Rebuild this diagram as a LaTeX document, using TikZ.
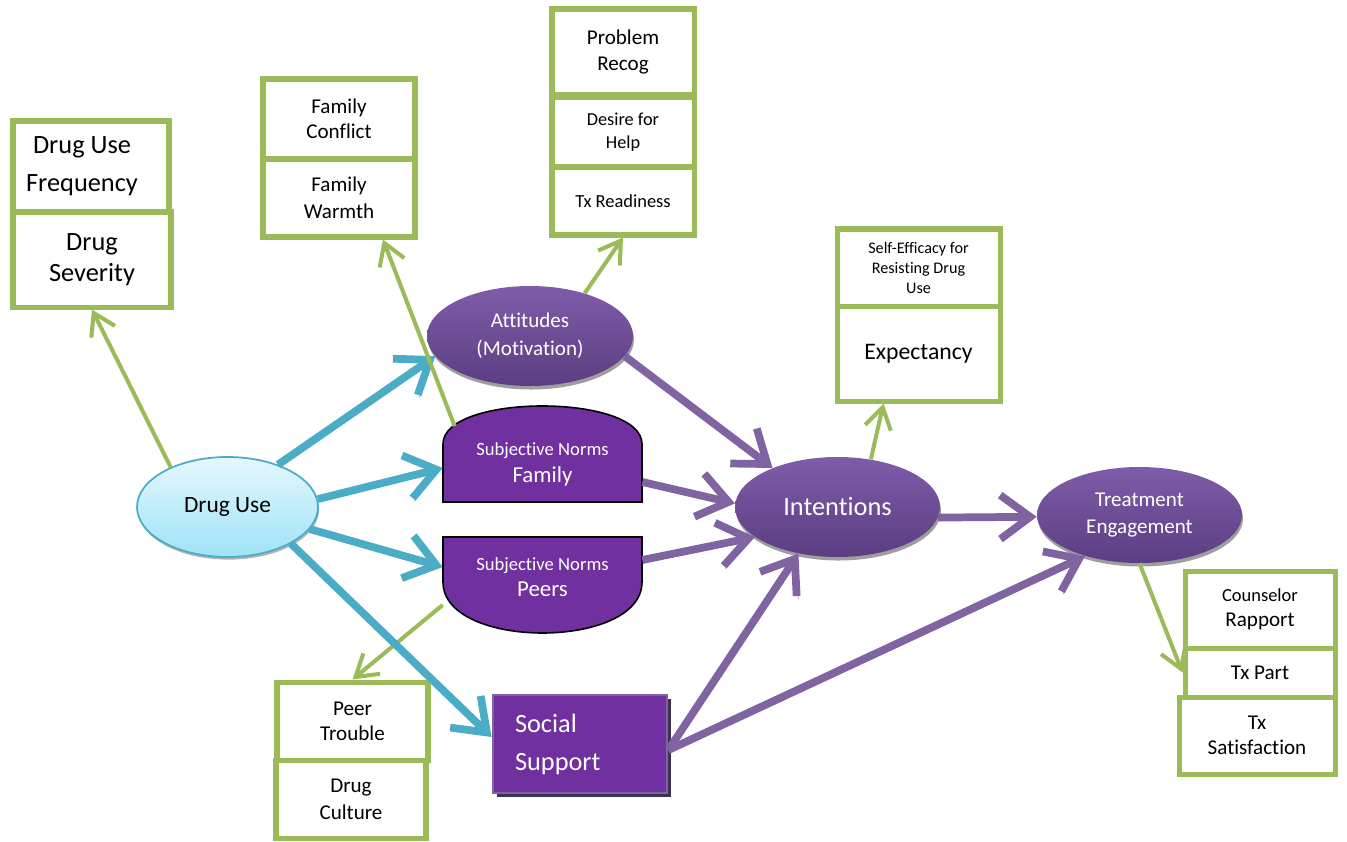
\documentclass[tikz,border=0pt]{standalone}
\usepackage{fontspec}
\setmainfont[Ligatures=NoCommon]{Carlito}
\usetikzlibrary{arrows.meta,shapes.geometric,shadows}
\newdimen\pxu \pxu=0.02cm
\definecolor{grn}{HTML}{9BBB59}
\definecolor{blu}{HTML}{4BACC6}
\definecolor{parr}{HTML}{8064A2}
\definecolor{snfill}{HTML}{7030A0}
\definecolor{ptop}{HTML}{7F5CA9}
\definecolor{pbot}{HTML}{5C3D82}
\definecolor{dutop}{HTML}{E4F8FE}
\definecolor{dubot}{HTML}{A0E2F7}
\definecolor{shd}{HTML}{A6A6A6}
\definecolor{ssshadow}{HTML}{3F3151}
\tikzset{
  gbox/.style={draw=grn, line width=2.85pt, fill=white, inner sep=0pt, align=center, text=black},
  pell/.style={ellipse, inner sep=0pt, top color=ptop, bottom color=pbot, text=white, align=center,
    drop shadow={shadow xshift=0.6pt, shadow yshift=-2pt, fill=black!38, opacity=1}},
  snshape/.style={fill=snfill, draw=black, line width=0.9pt},
  sntext/.style={inner sep=0pt, minimum width=199\pxu, text=white, align=center, font=\fontsize{13}{15}\selectfont},
  barrow/.style={draw=blu, line width=4.4pt, -{Straight Barb[length=17pt, width=25pt]},
    preaction={draw=shd, transform canvas={xshift=1pt, yshift=-1.6pt}}},
  parrow/.style={draw=parr, line width=4.4pt, -{Straight Barb[length=17pt, width=25pt]},
    preaction={draw=shd, transform canvas={xshift=1pt, yshift=-1.6pt}}},
  garrow/.style={draw=grn, line width=2.3pt, -{Straight Barb[length=12pt, width=15pt]}}
}
\begin{document}
\begin{tikzpicture}[x=0.02cm, y=-0.02cm]
\useasboundingbox (0,0) rectangle (1347,842);

% green boxes
\node[gbox, minimum width=156\pxu, minimum height=91\pxu, font=\fontsize{15}{21.6}\selectfont] (fq) at (91,166.5) {\hspace*{-18\pxu}Drug Use\\\hspace*{-18\pxu}Frequency};
\node[gbox, minimum width=158\pxu, minimum height=95\pxu, font=\fontsize{15}{17.6}\selectfont] (sev) at (92,259.5) {Drug\\Severity};
\node[gbox, minimum width=152\pxu, minimum height=80\pxu, font=\fontsize{12}{14.2}\selectfont] (fc) at (339,119) {Family\\Conflict};
\node[gbox, minimum width=152\pxu, minimum height=78\pxu, font=\fontsize{12}{15.4}\selectfont] (fw) at (339,198) {Family\\Warmth};
\node[gbox, minimum width=142\pxu, minimum height=86\pxu, font=\fontsize{12}{14.8}\selectfont] (pr) at (623,52) {Problem\\Recog};
\node[gbox, minimum width=142\pxu, minimum height=70\pxu, font=\fontsize{10.4}{13}\selectfont] (dh) at (623,132) {Desire for\\Help};
\node[gbox, minimum width=142\pxu, minimum height=68\pxu, font=\fontsize{10.5}{13}\selectfont] (tr) at (623,201) {Tx Readiness};
\node[gbox, minimum width=163\pxu, minimum height=78\pxu, font=\fontsize{9.2}{11.6}\selectfont] (se) at (918.5,268) {Self-Efficacy for\\Resisting Drug\\Use};
\node[gbox, minimum width=163\pxu, minimum height=95\pxu, font=\fontsize{13.5}{16}\selectfont] (ex) at (918.5,353.5) {Expectancy};
\node[gbox, minimum width=150\pxu, minimum height=77\pxu, font=\fontsize{12}{14.2}\selectfont] (cr) at (1260,609.5) {{\fontsize{10.5}{14.2}\selectfont Counselor}\\Rapport};
\node[gbox, minimum width=150\pxu, minimum height=49\pxu, font=\fontsize{12}{14.2}\selectfont] (tp) at (1260,672.5) {Tx Part};
\node[gbox, minimum width=156\pxu, minimum height=77\pxu, font=\fontsize{12}{14.2}\selectfont] (ts) at (1257,735.5) {Tx\\Satisfaction};
\node[gbox, minimum width=151\pxu, minimum height=78\pxu, font=\fontsize{12}{14.2}\selectfont] (pt) at (352.5,721) {Peer\\Trouble};
\node[gbox, minimum width=150\pxu, minimum height=78\pxu, font=\fontsize{12}{15.4}\selectfont] (dc) at (351,799) {Drug\\Culture};

% ellipses
\node[ellipse, inner sep=0pt, minimum width=181\pxu, minimum height=100\pxu, top color=dutop, bottom color=dubot, draw=blu, line width=1pt,
  drop shadow={shadow xshift=0.6pt, shadow yshift=-1.5pt, fill=black!30, opacity=1},
  font=\fontsize{13.3}{16}\selectfont] (du) at (227.5,507) {Drug Use};
\node[pell, minimum width=206\pxu, minimum height=100\pxu, font=\fontsize{12}{16}\selectfont] (att) at (530,336) {Attitudes\\(Motivation)};
\node[pell, minimum width=205\pxu, minimum height=100\pxu, font=\fontsize{15}{18}\selectfont] (int) at (837.5,507) {Intentions};
\node[pell, minimum width=205\pxu, minimum height=96\pxu, font=\fontsize{12}{15.4}\selectfont] (te) at (1139.5,515) {Treatment\\Engagement};

% subjective norms shapes
\draw[snshape] (443,502) -- (443,444) .. controls (443,393.3) and (642,393.3) .. (642,444) -- (642,502) -- cycle;
\node[sntext, minimum height=76\pxu] (snf) at (542.5,464.5) {{\fontsize{10.6}{15}\selectfont Subjective Norms}\\Family};
\draw[snshape] (443,537) -- (642,537) -- (642,582) .. controls (642,650) and (443,650) .. (443,582) -- cycle;
\node[sntext, minimum height=80\pxu] (snp) at (542.5,577) {{\fontsize{10.6}{15}\selectfont Subjective Norms}\\Peers};

% social support
\node[draw=parr, line width=1.6pt, fill=snfill, text=white, minimum width=174\pxu, minimum height=98\pxu,
  inner xsep=22\pxu, text width=130\pxu, align=left, font=\fontsize{15}{21.6}\selectfont,
  drop shadow={shadow xshift=2.2pt, shadow yshift=-2.2pt, fill=ssshadow, opacity=1}] (ss) at (580,744) {Social\\Support};

% connectors
\draw[garrow] ([yshift=-28\pxu]snp.west) -- (pt.north);
\draw[barrow] (du.40) -- (att.192);
\draw[barrow] (du.5) -- ([yshift=-3.5\pxu]snf.west);
\draw[barrow] (du.-15) -- ([yshift=10\pxu]snp.west);
\draw[barrow] (du.-30) -- ([yshift=7\pxu]ss.west);
\draw[parrow] (att.-12) -- (int.149);
\draw[parrow] ([yshift=-17.5\pxu]snf.east) -- (int.178);
\draw[parrow] ([yshift=17\pxu]snp.east) -- (int.200);
\draw[parrow] ([yshift=-6\pxu]ss.east) -- (int.230);
\draw[parrow] ([yshift=-6\pxu]ss.east) -- (te.217);
\draw[parrow] (int.-6) -- (te.181);
\draw[garrow] (du.145) -- (sev.south);
\draw[garrow] ([xshift=12\pxu]snf.north west) -- ([xshift=44\pxu]fw.south);
\draw[garrow] (att.38) -- (tr.south);
\draw[garrow] (int.55) -- ([xshift=-35\pxu]ex.south);
\draw[garrow] (te.south) -- (tp.west);
\end{tikzpicture}
\end{document}
